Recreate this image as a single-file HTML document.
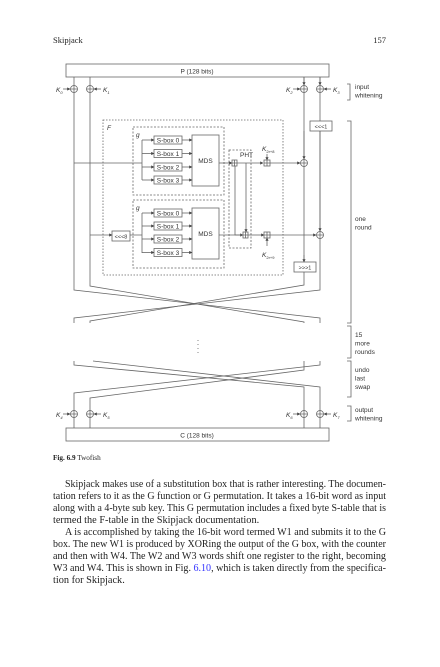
<!DOCTYPE html>
<html><head><meta charset="utf-8"><style>
html,body{margin:0;padding:0;background:#fff}
svg{display:block}
.t{font-family:"Liberation Sans",sans-serif;font-size:6.5px;fill:#333}
.s{font-family:"Liberation Serif",serif;fill:#222}
</style></head><body>
<svg width="440" height="667" viewBox="0 0 440 667" xmlns="http://www.w3.org/2000/svg">
<defs><marker id="a" markerWidth="4" markerHeight="4" refX="3.5" refY="2" orient="auto"><path d="M0,0L4,2L0,4z" fill="#444"/></marker></defs>
<text class="s" x="53" y="43" font-size="8.5">Skipjack</text>
<text class="s" x="386" y="43" font-size="8.5" text-anchor="end">157</text>
<g stroke="#666" stroke-width="0.8" fill="none">
<rect x="66" y="64" width="263" height="13" fill="#fff"/>
<rect x="66" y="428" width="263" height="13" fill="#fff"/>
<!-- top verticals -->
<path d="M74,77V290L320,318V323"/>
<path d="M90,77V286L304,322V323"/>
<path d="M304,77V262M304,272V285L90,321V323"/>
<path d="M320,77V121M320,131V290L74,318V323"/>
<!-- bottom crossing -->
<path d="M74,361V365L304,387V428"/>
<path d="M93,361L320,387V428"/>
<path d="M320,361V365L74,393V428"/>
<path d="M304,361V370L90,398V428"/>
<!-- dots -->
<path d="M198,340V356" stroke-dasharray="1,3"/>
<!-- XOR circles -->
<g fill="#fff">
<circle cx="74" cy="89" r="3.5"/><circle cx="90" cy="89" r="3.5"/><circle cx="304" cy="89" r="3.5"/><circle cx="320" cy="89" r="3.5"/>
<circle cx="74" cy="414" r="3.5"/><circle cx="90" cy="414" r="3.5"/><circle cx="304" cy="414" r="3.5"/><circle cx="320" cy="414" r="3.5"/>
<circle cx="304" cy="163" r="3.5"/><circle cx="320" cy="235" r="3.5"/>
</g>
<path d="M70.5,89h7M74,85.5v7M86.5,89h7M90,85.5v7M300.5,89h7M304,85.5v7M316.5,89h7M320,85.5v7M70.5,414h7M74,410.5v7M86.5,414h7M90,410.5v7M300.5,414h7M304,410.5v7M316.5,414h7M320,410.5v7M300.5,163h7M304,159.5v7M316.5,235h7M320,231.5v7"/>
<!-- key arrows -->
<g marker-end="url(#a)">
<path d="M63,89h7"/><path d="M101,89h-7"/><path d="M293,89h7"/><path d="M331,89h-7"/>
<path d="M63,414h7"/><path d="M101,414h-7"/><path d="M293,414h7"/><path d="M331,414h-7"/>
</g>
<!-- F and g boxes -->
<rect x="103" y="120" width="180" height="155" stroke-dasharray="1.5,1.5"/>
<rect x="133" y="127" width="91" height="68" stroke-dasharray="2,1.5"/>
<rect x="133" y="200" width="91" height="68" stroke-dasharray="2,1.5"/>
<rect x="229" y="150" width="22" height="98" stroke-dasharray="2,1.5"/>
<g fill="#fff">
<rect x="154" y="136" width="28" height="8"/><rect x="154" y="149.5" width="28" height="8"/><rect x="154" y="163" width="28" height="8"/><rect x="154" y="176" width="28" height="8"/>
<rect x="154" y="209" width="28" height="8"/><rect x="154" y="222" width="28" height="8"/><rect x="154" y="235" width="28" height="8"/><rect x="154" y="248.5" width="28" height="8"/>
<rect x="192" y="135" width="27" height="51"/><rect x="192" y="208" width="27" height="51"/>
<rect x="112" y="231" width="18" height="10"/>
<rect x="310" y="121" width="22" height="10"/><rect x="294" y="262" width="22" height="10"/>
</g>
<!-- g1 wiring -->
<path d="M74,163H142M142,140V180"/>
<g marker-end="url(#a)"><path d="M142,140h12"/><path d="M142,153.5h12"/><path d="M142,167h12"/><path d="M142,180h12"/>
<path d="M182,140h10"/><path d="M182,153.5h10"/><path d="M182,167h10"/><path d="M182,180h10"/>
<path d="M142,213h12"/><path d="M142,226h12"/><path d="M142,239h12"/><path d="M142,252.5h12"/>
<path d="M182,213h10"/><path d="M182,226h10"/><path d="M182,239h10"/><path d="M182,252.5h10"/>
<path d="M219,163h13"/><path d="M219,235h24"/><path d="M237,163h26"/><path d="M248,235h16"/>
<path d="M270,163h30"/><path d="M270,235h46"/><path d="M90,235h22"/>
<path d="M246,163V232"/><path d="M267,154V160"/><path d="M267,246V238"/>
<path d="M304,77V85"/><path d="M320,77V85"/><path d="M304,131V159"/><path d="M320,131V231"/><path d="M304,255V262"/>
</g>
<path d="M130,235h12M142,213V253"/>
<path d="M235,166V235h8"/>
<g fill="#fff"><rect x="232" y="160" width="5" height="6"/><rect x="243" y="232" width="5" height="6"/><rect x="264" y="160" width="6" height="6"/><rect x="264" y="232" width="6" height="6"/></g>
<path d="M234.5,160v6M232,163h5M245.5,232v6M243,235h5M267,160v6M264,163h6M267,232v6M264,235h6"/>
<!-- brackets -->
<path d="M347,84h3V100h-3M347,121h4V323h-4M347,326h4V358h-4M347,361h4V397h-4M347,406h4V421h-4"/>
</g>
<g class="t">
<text x="197" y="73.5" text-anchor="middle">P (128 bits)</text>
<text x="197" y="437.5" text-anchor="middle">C (128 bits)</text>
<text x="168" y="142.5" text-anchor="middle">S-box 0</text><text x="168" y="156" text-anchor="middle">S-box 1</text><text x="168" y="169.5" text-anchor="middle">S-box 2</text><text x="168" y="182.5" text-anchor="middle">S-box 3</text>
<text x="168" y="215.5" text-anchor="middle">S-box 0</text><text x="168" y="228.5" text-anchor="middle">S-box 1</text><text x="168" y="241.5" text-anchor="middle">S-box 2</text><text x="168" y="255" text-anchor="middle">S-box 3</text>
<text x="205.5" y="163" text-anchor="middle">MDS</text><text x="205.5" y="236" text-anchor="middle">MDS</text>
<text x="240" y="157">PHT</text>
<text x="121" y="238.5" text-anchor="middle" font-size="5.5">&lt;&lt;&lt;8</text>
<text x="321" y="128.5" text-anchor="middle" font-size="5.5">&lt;&lt;&lt;1</text>
<text x="305" y="269.5" text-anchor="middle" font-size="5.5">&gt;&gt;&gt;1</text>
<text x="107" y="130" font-style="italic">F</text>
<text x="136" y="137" font-style="italic">g</text><text x="136" y="210" font-style="italic">g</text>
<text x="262" y="151" font-style="italic">K<tspan font-size="4" dy="2" font-style="normal">2r+8</tspan></text>
<text x="262" y="257" font-style="italic">K<tspan font-size="4" dy="2" font-style="normal">2r+9</tspan></text>
<text x="56" y="92" font-style="italic">K<tspan font-size="4" dy="2">0</tspan></text>
<text x="103" y="92" font-style="italic">K<tspan font-size="4" dy="2">1</tspan></text>
<text x="286" y="92" font-style="italic">K<tspan font-size="4" dy="2">2</tspan></text>
<text x="333" y="92" font-style="italic">K<tspan font-size="4" dy="2">3</tspan></text>
<text x="56" y="417" font-style="italic">K<tspan font-size="4" dy="2">4</tspan></text>
<text x="103" y="417" font-style="italic">K<tspan font-size="4" dy="2">5</tspan></text>
<text x="286" y="417" font-style="italic">K<tspan font-size="4" dy="2">6</tspan></text>
<text x="333" y="417" font-style="italic">K<tspan font-size="4" dy="2">7</tspan></text>
<text x="355" y="89">input</text><text x="355" y="97.5">whitening</text>
<text x="355" y="221">one</text><text x="355" y="229.5">round</text>
<text x="355" y="337">15</text><text x="355" y="345.5">more</text><text x="355" y="354">rounds</text>
<text x="355" y="372">undo</text><text x="355" y="380.5">last</text><text x="355" y="389">swap</text>
<text x="355" y="412">output</text><text x="355" y="420.5">whitening</text>
</g>
<g class="s" font-size="7.2"><text x="53" y="460"><tspan font-weight="bold">Fig. 6.9</tspan>  Twofish</text></g>
<g class="s" font-size="10.3">
<text x="65" y="487" textLength="321" lengthAdjust="spacingAndGlyphs">Skipjack makes use of a substitution box that is rather interesting. The documen-</text>
<text x="53" y="499" textLength="333" lengthAdjust="spacingAndGlyphs">tation refers to it as the G function or G permutation. It takes a 16-bit word as input</text>
<text x="53" y="511" textLength="333" lengthAdjust="spacingAndGlyphs">along with a 4-byte sub key. This G permutation includes a fixed byte S-table that is</text>
<text x="53" y="523">termed the F-table in the Skipjack documentation.</text>
<text x="65" y="535" textLength="321" lengthAdjust="spacingAndGlyphs">A is accomplished by taking the 16-bit word termed W1 and submits it to the G</text>
<text x="53" y="547" textLength="333" lengthAdjust="spacingAndGlyphs">box. The new W1 is produced by XORing the output of the G box, with the counter</text>
<text x="53" y="559" textLength="333" lengthAdjust="spacingAndGlyphs">and then with W4. The W2 and W3 words shift one register to the right, becoming</text>
<text x="53" y="571" textLength="333" lengthAdjust="spacingAndGlyphs">W3 and W4. This is shown in Fig. <tspan fill="#33f">6.10</tspan>, which is taken directly from the specifica-</text>
<text x="53" y="583">tion for Skipjack.</text>
</g>
</svg>
</body></html>
